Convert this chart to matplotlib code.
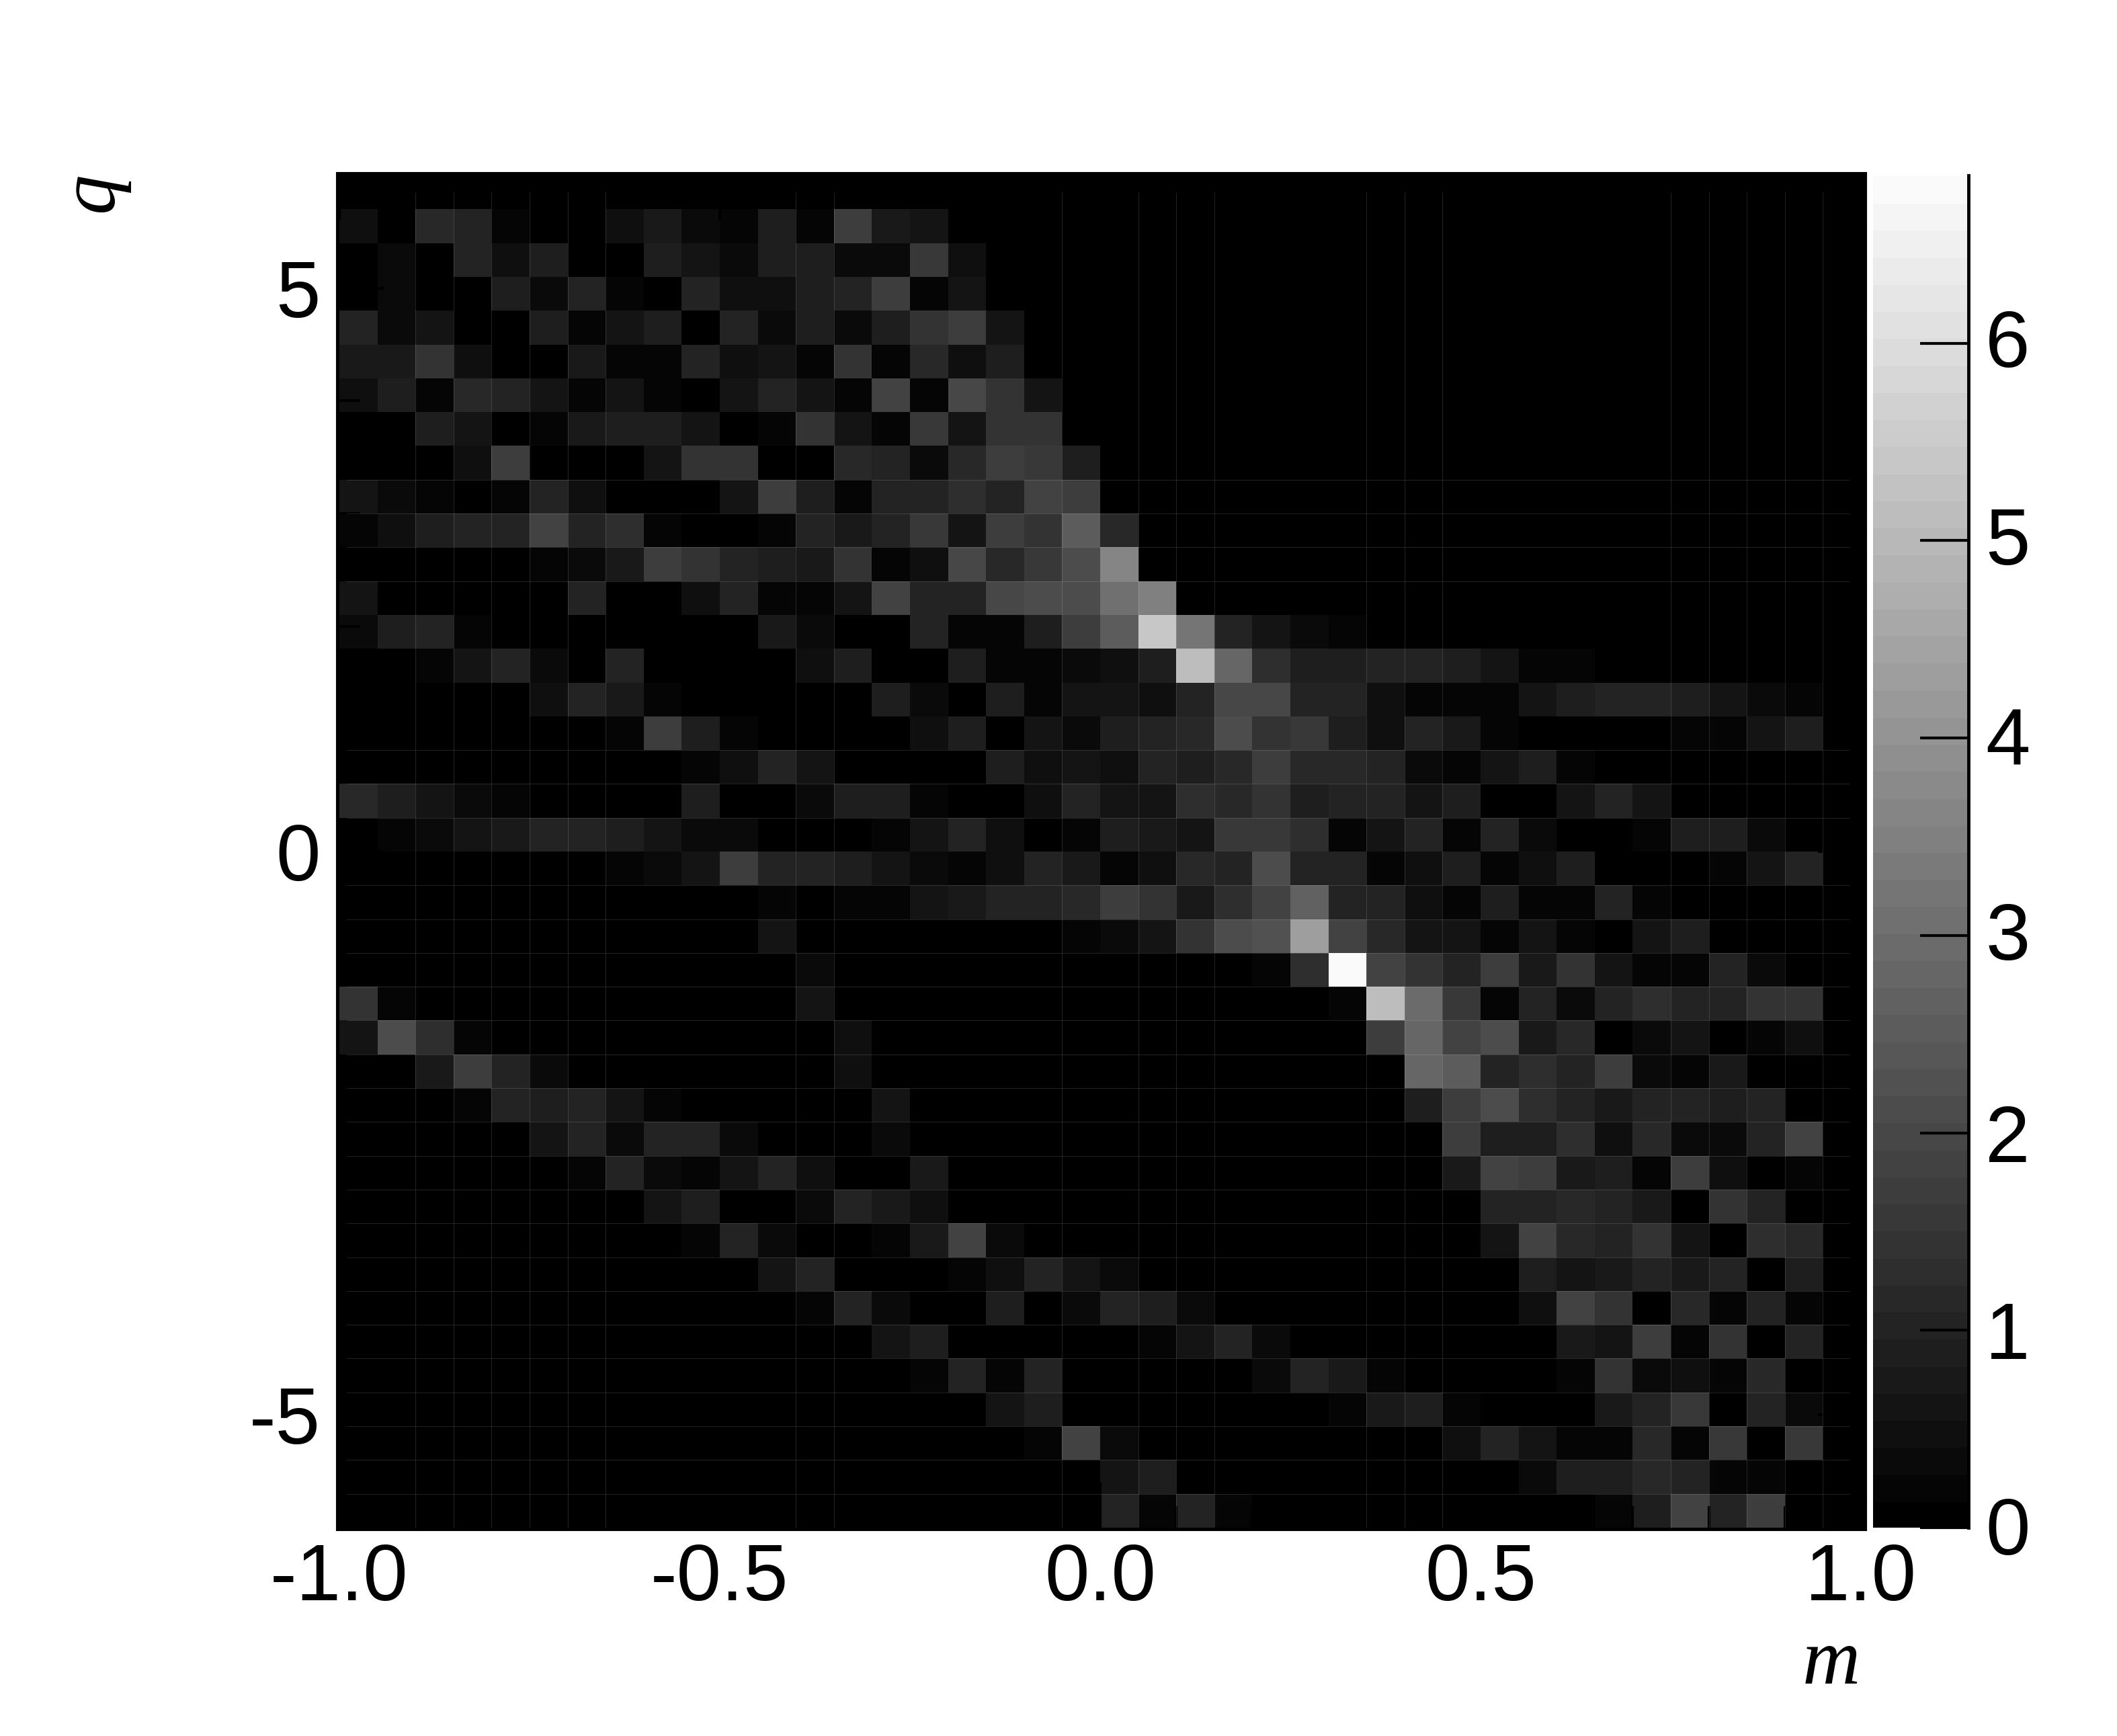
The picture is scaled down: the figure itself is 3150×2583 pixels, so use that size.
import numpy as np
import matplotlib
matplotlib.use("Agg")
import matplotlib.pyplot as plt
from matplotlib.colors import ListedColormap, BoundaryNorm
from matplotlib.transforms import ScaledTranslation

# cell values in tenths, top row first, left half of the map (m < 0)
z_left = [
    [0, 0, 0, 0, 0, 0, 0, 0, 0, 0, 0, 0, 0, 0, 0, 0, 0, 0, 0, 0],
    [4, 0, 11, 10, 2, 0, 0, 4, 7, 3, 1, 8, 1, 16, 7, 6, 0, 0, 0, 0],
    [0, 3, 0, 9, 4, 8, 0, 0, 8, 5, 3, 8, 8, 3, 3, 15, 4, 0, 0, 0],
    [0, 3, 0, 0, 8, 3, 9, 2, 0, 9, 4, 4, 8, 10, 16, 2, 6, 0, 0, 0],
    [9, 3, 5, 0, 0, 8, 1, 5, 8, 0, 10, 3, 8, 3, 8, 13, 17, 5, 0, 0],
    [7, 7, 13, 4, 0, 0, 7, 2, 1, 9, 4, 6, 1, 14, 1, 11, 4, 8, 0, 0],
    [4, 8, 1, 11, 9, 6, 1, 5, 2, 0, 5, 9, 5, 1, 18, 2, 19, 13, 5, 0],
    [0, 0, 8, 5, 0, 1, 7, 8, 8, 5, 0, 1, 13, 5, 1, 15, 5, 14, 13, 0],
    [0, 0, 0, 4, 17, 0, 0, 0, 5, 13, 13, 0, 0, 11, 9, 3, 11, 16, 15, 8],
    [5, 3, 1, 0, 2, 10, 4, 0, 0, 0, 5, 16, 8, 2, 10, 9, 12, 9, 18, 17],
    [2, 4, 8, 10, 9, 18, 10, 12, 2, 0, 0, 1, 9, 7, 9, 15, 6, 16, 13, 24],
    [0, 0, 0, 0, 0, 2, 3, 7, 17, 14, 10, 8, 7, 13, 2, 4, 19, 11, 15, 20],
    [5, 0, 0, 0, 0, 0, 10, 0, 0, 4, 9, 1, 2, 5, 18, 10, 10, 19, 21, 20],
    [3, 8, 9, 2, 0, 0, 0, 0, 0, 0, 0, 7, 3, 0, 0, 9, 1, 2, 8, 17],
    [0, 0, 1, 5, 10, 3, 0, 9, 0, 0, 0, 0, 4, 8, 0, 0, 8, 1, 2, 3],
    [0, 0, 0, 0, 0, 4, 10, 7, 2, 0, 0, 0, 0, 0, 8, 3, 0, 8, 1, 5],
    [0, 0, 0, 0, 0, 0, 0, 1, 16, 8, 2, 0, 0, 0, 0, 4, 8, 0, 6, 3],
    [0, 0, 0, 0, 0, 0, 0, 0, 0, 1, 4, 10, 5, 0, 0, 0, 0, 8, 4, 5],
    [11, 8, 5, 3, 1, 0, 0, 0, 0, 8, 0, 0, 3, 8, 8, 2, 0, 0, 4, 9],
    [0, 1, 3, 5, 7, 10, 10, 8, 5, 3, 3, 0, 0, 0, 1, 5, 10, 4, 0, 1],
    [0, 0, 0, 0, 0, 0, 0, 1, 3, 5, 16, 10, 10, 8, 5, 3, 1, 4, 10, 7],
    [0, 0, 0, 0, 0, 0, 0, 0, 0, 0, 0, 2, 0, 1, 2, 5, 7, 10, 10, 11],
    [0, 0, 0, 0, 0, 0, 0, 0, 0, 0, 0, 5, 0, 0, 0, 0, 0, 0, 0, 2],
    [0, 0, 0, 0, 0, 0, 0, 0, 0, 0, 0, 0, 3, 0, 0, 0, 0, 0, 0, 0],
    [14, 1, 0, 0, 0, 0, 0, 0, 0, 0, 0, 0, 6, 0, 0, 0, 0, 0, 0, 0],
    [6, 21, 12, 1, 0, 0, 0, 0, 0, 0, 0, 0, 0, 4, 0, 0, 0, 0, 0, 0],
    [0, 0, 7, 16, 10, 3, 0, 0, 0, 0, 0, 0, 0, 4, 0, 0, 0, 0, 0, 0],
    [0, 0, 0, 1, 10, 8, 10, 5, 1, 0, 0, 0, 0, 0, 5, 0, 0, 0, 0, 0],
    [0, 0, 0, 0, 0, 5, 9, 3, 9, 9, 3, 0, 0, 0, 3, 0, 0, 0, 0, 0],
    [0, 0, 0, 0, 0, 0, 1, 10, 3, 1, 5, 10, 4, 0, 0, 7, 0, 0, 0, 0],
    [0, 0, 0, 0, 0, 0, 0, 0, 5, 8, 0, 0, 3, 10, 7, 4, 0, 0, 0, 0],
    [0, 0, 0, 0, 0, 0, 0, 0, 0, 1, 10, 3, 0, 0, 1, 7, 18, 3, 0, 0],
    [0, 0, 0, 0, 0, 0, 0, 0, 0, 0, 0, 6, 9, 0, 0, 0, 1, 4, 10, 6],
    [0, 0, 0, 0, 0, 0, 0, 0, 0, 0, 0, 0, 1, 10, 3, 0, 0, 8, 0, 3],
    [0, 0, 0, 0, 0, 0, 0, 0, 0, 0, 0, 0, 0, 0, 5, 8, 0, 0, 0, 0],
    [0, 0, 0, 0, 0, 0, 0, 0, 0, 0, 0, 0, 0, 0, 0, 1, 10, 2, 10, 0],
    [0, 0, 0, 0, 0, 0, 0, 0, 0, 0, 0, 0, 0, 0, 0, 0, 0, 5, 8, 0],
    [0, 0, 0, 0, 0, 0, 0, 0, 0, 0, 0, 0, 0, 0, 0, 0, 0, 0, 1, 18],
    [0, 0, 0, 0, 0, 0, 0, 0, 0, 0, 0, 0, 0, 0, 0, 0, 0, 0, 0, 0],
    [0, 0, 0, 0, 0, 0, 0, 0, 0, 0, 0, 0, 0, 0, 0, 0, 0, 0, 0, 0],
]

# right half of the map (m > 0), same rows
z_right = [
    [0, 0, 0, 0, 0, 0, 0, 0, 0, 0, 0, 0, 0, 0, 0, 0, 0, 0, 0, 0],
    [0, 0, 0, 0, 0, 0, 0, 0, 0, 0, 0, 0, 0, 0, 0, 0, 0, 0, 0, 0],
    [0, 0, 0, 0, 0, 0, 0, 0, 0, 0, 0, 0, 0, 0, 0, 0, 0, 0, 0, 0],
    [0, 0, 0, 0, 0, 0, 0, 0, 0, 0, 0, 0, 0, 0, 0, 0, 0, 0, 0, 0],
    [0, 0, 0, 0, 0, 0, 0, 0, 0, 0, 0, 0, 0, 0, 0, 0, 0, 0, 0, 0],
    [0, 0, 0, 0, 0, 0, 0, 0, 0, 0, 0, 0, 0, 0, 0, 0, 0, 0, 0, 0],
    [0, 0, 0, 0, 0, 0, 0, 0, 0, 0, 0, 0, 0, 0, 0, 0, 0, 0, 0, 0],
    [0, 0, 0, 0, 0, 0, 0, 0, 0, 0, 0, 0, 0, 0, 0, 0, 0, 0, 0, 0],
    [0, 0, 0, 0, 0, 0, 0, 0, 0, 0, 0, 0, 0, 0, 0, 0, 0, 0, 0, 0],
    [0, 0, 0, 0, 0, 0, 0, 0, 0, 0, 0, 0, 0, 0, 0, 0, 0, 0, 0, 0],
    [11, 0, 0, 0, 0, 0, 0, 0, 0, 0, 0, 0, 0, 0, 0, 0, 0, 0, 0, 0],
    [35, 0, 0, 0, 0, 0, 0, 0, 0, 0, 0, 0, 0, 0, 0, 0, 0, 0, 0, 0],
    [30, 34, 0, 0, 0, 0, 0, 0, 0, 0, 0, 0, 0, 0, 0, 0, 0, 0, 0, 0],
    [25, 54, 31, 9, 5, 3, 1, 0, 0, 0, 0, 0, 0, 0, 0, 0, 0, 0, 0, 0],
    [4, 8, 50, 28, 12, 8, 8, 9, 10, 8, 5, 2, 1, 0, 0, 0, 0, 0, 0, 0],
    [5, 4, 9, 19, 19, 9, 9, 4, 1, 1, 2, 5, 8, 9, 9, 8, 5, 3, 1, 0],
    [8, 9, 11, 21, 13, 15, 8, 4, 10, 7, 1, 0, 0, 0, 0, 1, 2, 5, 8, 0],
    [4, 9, 8, 11, 16, 11, 11, 9, 3, 1, 6, 8, 2, 0, 0, 0, 0, 0, 0, 0],
    [5, 5, 12, 11, 13, 8, 10, 10, 5, 8, 0, 0, 5, 10, 5, 0, 0, 0, 0, 0],
    [8, 7, 6, 15, 15, 12, 2, 6, 10, 1, 10, 3, 0, 0, 2, 8, 8, 3, 0, 0],
    [1, 4, 11, 9, 20, 10, 10, 1, 4, 8, 1, 4, 8, 0, 0, 0, 1, 5, 10, 0],
    [17, 13, 7, 12, 18, 26, 9, 9, 4, 2, 8, 1, 1, 10, 2, 0, 0, 0, 0, 0],
    [3, 5, 13, 20, 22, 43, 18, 11, 5, 6, 1, 6, 2, 0, 5, 8, 0, 0, 0, 0],
    [0, 0, 0, 0, 2, 12, 68, 18, 13, 9, 17, 7, 13, 6, 1, 1, 9, 3, 0, 0],
    [0, 0, 0, 0, 0, 0, 2, 51, 29, 15, 1, 10, 3, 9, 12, 10, 10, 14, 14, 0],
    [0, 0, 0, 0, 0, 0, 0, 17, 28, 18, 20, 7, 11, 0, 3, 5, 0, 1, 4, 0],
    [0, 0, 0, 0, 0, 0, 0, 0, 27, 24, 9, 12, 9, 16, 3, 2, 7, 0, 0, 0],
    [0, 0, 0, 0, 0, 0, 0, 0, 8, 16, 20, 12, 10, 7, 9, 10, 8, 10, 0, 0],
    [0, 0, 0, 0, 0, 0, 0, 0, 0, 16, 8, 8, 12, 4, 11, 3, 3, 10, 18, 0],
    [0, 0, 0, 0, 0, 0, 0, 0, 0, 7, 18, 16, 7, 8, 1, 16, 4, 0, 1, 0],
    [0, 0, 0, 0, 0, 0, 0, 0, 0, 0, 10, 10, 11, 10, 7, 0, 14, 9, 0, 0],
    [0, 0, 0, 0, 0, 0, 0, 0, 0, 0, 5, 18, 11, 10, 13, 6, 0, 12, 11, 0],
    [3, 0, 0, 0, 0, 0, 0, 0, 0, 0, 0, 8, 5, 7, 10, 7, 9, 0, 8, 0],
    [10, 8, 3, 0, 0, 0, 0, 0, 0, 0, 0, 4, 18, 13, 0, 11, 1, 9, 1, 0],
    [0, 1, 5, 10, 3, 0, 0, 0, 0, 0, 0, 0, 7, 5, 16, 1, 14, 0, 10, 0],
    [0, 0, 0, 0, 3, 10, 7, 1, 0, 0, 0, 0, 2, 14, 3, 4, 2, 11, 0, 0],
    [0, 0, 0, 0, 0, 0, 1, 7, 8, 2, 0, 0, 0, 7, 9, 15, 0, 9, 3, 0],
    [3, 0, 0, 0, 0, 0, 0, 0, 0, 4, 9, 5, 1, 1, 11, 1, 15, 0, 15, 0],
    [5, 8, 0, 0, 0, 0, 0, 0, 0, 0, 0, 3, 8, 8, 11, 9, 2, 1, 0, 0],
    [9, 1, 10, 2, 0, 0, 0, 0, 0, 0, 0, 0, 0, 1, 8, 18, 9, 16, 0, 0],
]

x_ticks = [-1.0, -0.5, 0.0, 0.5, 1.0]
x_tick_labels = ["-1.0", "-0.5", "0.0", "0.5", "1.0"]
y_ticks = [-5, 0, 5]
y_tick_labels = ["-5", "0", "5"]
z_ticks = [0, 1, 2, 3, 4, 5, 6]
z_max = 6.85

# cell edges where the renderer left faint seams
seam_cols = [2, 3, 4, 5, 6, 7, 12, 13, 19, 21, 22, 23, 27, 28, 29, 35, 36, 37, 38, 39]
seam_rows = [9, 10, 11, 12, 17, 18, 19, 21, 22, 23, 24, 25, 26, 27, 28, 29, 30, 31, 32,
             33, 34, 35, 36, 37, 38, 39]

# how far the colour bar labels sit above their ticks, pixels
z_label_lift = [3, 0, 0, 7, 3, 7, 8]

W, H = 3150, 2583
FS = 86
plt.rcParams["font.family"] = "Liberation Sans"


def rect(left, top, right, bottom):
    # pixel box -> figure fraction
    return [left / W, 1 - bottom / H, (right - left) / W, (bottom - top) / H]


z = np.hstack([np.array(z_left), np.array(z_right)]) / 10
x_edges = np.linspace(-1, 1, 41)
y_edges = np.linspace(6, -6, 41)

levels = np.linspace(0, z_max, 51)
cmap = ListedColormap(plt.cm.gray(np.linspace(0, 0.98, 50)))
norm = BoundaryNorm(levels, 50)

# half a contour step so that the banding does not round cells down
z_draw = np.where(z > 0, z + 0.07, 0)

fig = plt.figure(figsize=(W / 100, H / 100), dpi=100)
ax = fig.add_axes(rect(500, 256, 2777, 2277))
ax.set_facecolor("black")
mesh = ax.pcolormesh(x_edges, y_edges, z_draw, cmap=cmap, norm=norm, linewidth=0, rasterized=True)
ax.set_xlim(-1.0044, 1.0071)
ax.set_ylim(-6.024, 6.03)

# faint seams
ax.vlines(x_edges[seam_cols], -6, 5.85, color="white", alpha=0.13, lw=0.8)
ax.hlines(y_edges[seam_rows], -0.99, 0.985, color="white", alpha=0.13, lw=0.8)

ax.set_xticks(x_ticks)
ax.set_xticklabels(x_tick_labels)
ax.set_yticks(y_ticks)
ax.set_yticklabels(y_tick_labels)
ax.set_xticks(np.arange(-10, 11) / 10, minor=True)
ax.set_yticks(np.arange(-6, 7), minor=True)
ax.tick_params(axis="both", which="major", direction="in", length=52, width=3, color="black",
               top=True, right=True, labelsize=FS)
ax.tick_params(axis="both", which="minor", direction="in", length=26, width=3, color="black",
               top=True, right=True)
ax.tick_params(axis="x", which="major", pad=13)
ax.tick_params(axis="y", which="major", pad=17)
for s in ax.spines.values():
    s.set_color("black")

fig.text(138 / W, 1 - 256 / H, "q", family="Liberation Serif", style="italic", fontsize=FS,
         rotation=90, ha="center", va="top")
fig.text(2768 / W, 1 - 2505 / H, "m", family="Liberation Serif", style="italic", fontsize=FS,
         ha="right", va="baseline")

cax = fig.add_axes(rect(2787, 261, 2929, 2273))
cb = fig.colorbar(mesh, cax=cax, ticks=z_ticks, spacing="proportional")
cb.outline.set_visible(False)
cb.minorticks_off()
cb.solids.set_edgecolor("face")
cax.axvline(1, color="black", lw=3.5, clip_on=False)
cax.tick_params(axis="y", direction="in", length=52, width=3, color="black", pad=18, labelsize=FS)
for lab, lift in zip(cax.get_yticklabels(), z_label_lift):
    lab.set_transform(lab.get_transform() + ScaledTranslation(0, lift / 100, fig.dpi_scale_trans))

fig.savefig("out.png", dpi=100, facecolor="white")
